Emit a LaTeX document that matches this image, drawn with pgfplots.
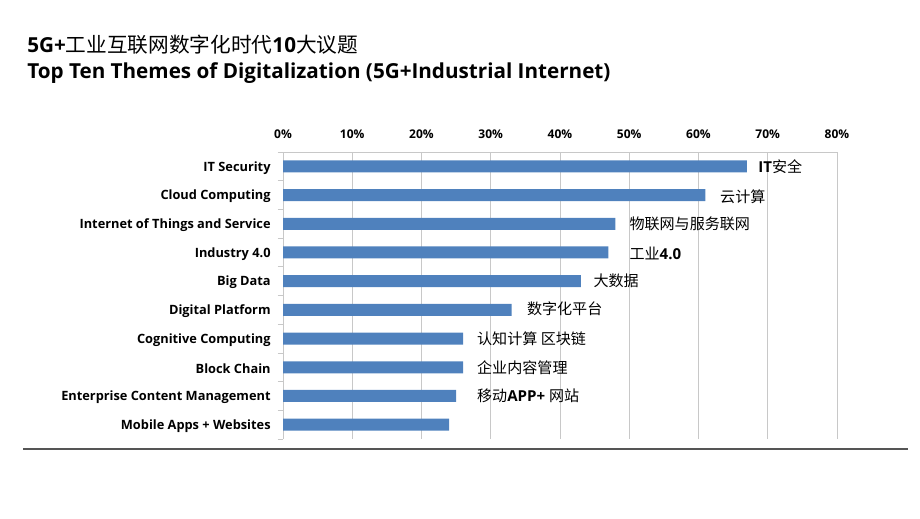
\documentclass[border=0pt]{standalone}
\usepackage{pgfplots}
\pgfplotsset{compat=1.18}
\usepackage{fontspec}
\setmainfont{Open Sans}
\newfontfamily\cjk{Noto Sans CJK SC}
\definecolor{barblue}{RGB}{79,129,189}
\definecolor{gridgray}{RGB}{200,200,200}
\definecolor{rulegray}{RGB}{85,85,85}
\begin{document}
\begin{tikzpicture}
\path[use as bounding box] (0,0) rectangle (690pt,-388.5pt);
\node[anchor=west,inner sep=0pt,font=\fontsize{15.5pt}{18pt}\selectfont] at (20.25pt,-33.75pt)
  {\bfseries 5G+{\cjk\mdseries 工业互联网数字化时代}10{\cjk\mdseries 大议题}};
\node[anchor=west,inner sep=0pt,font=\fontsize{15.5pt}{18pt}\selectfont\bfseries] at (20.25pt,-55pt)
  {Top Ten Themes of Digitalization (5G+Industrial Internet)};
\draw[line width=1.6pt,rulegray] (17.25pt,-336.75pt) -- (681pt,-336.75pt);
\begin{axis}[
  at={(212.25pt,-114pt)}, anchor=north west,
  scale only axis, width=415.5pt, height=215.25pt,
  xbar, bar width=9pt,
  xmin=0, xmax=80,
  ymin=-0.5, ymax=9.5,
  y dir=reverse,
  axis x line*=top, axis y line*=left,
  axis line style={gridgray},
  xtick={0,10,...,80},
  xticklabel={\pgfmathprintnumber{\tick}\%},
  xticklabel style={font=\fontsize{9pt}{10pt}\selectfont\bfseries, yshift=2pt},
  /pgf/number format/assume math mode=true,
  xmajorgrids, grid style={gridgray, line width=0.6pt},
  major x tick style={draw=none},
  ytick={0,...,9},
  yticklabels={IT Security, Cloud Computing, Internet of Things and Service, Industry 4.0, Big Data, Digital Platform, Cognitive Computing, Block Chain, Enterprise Content Management, Mobile Apps + Websites},
  yticklabel style={font=\fontsize{9.6pt}{10pt}\selectfont\bfseries, xshift=-1.5pt, yshift=-1pt},
  major y tick style={draw=none},
  minor ytick={-0.5,0.5,...,9.5},
  minor y tick style={gridgray, line width=0.6pt},
  minor tick length=4pt,
  tick align=outside,
  clip=false,
]
\addplot[fill=barblue, draw=none] coordinates {
  (67,0) (61,1) (48,2) (47,3) (43,4) (33,5) (26,6) (26,7) (25,8) (24,9)
};
\begin{scope}[every node/.style={anchor=west, inner sep=0pt, font=\fontsize{11.3pt}{12pt}\selectfont}]
\node at (axis cs:68.6,0) {\bfseries IT{\cjk\mdseries 安全}};
\node at (axis cs:63.1,1.05) {\cjk 云计算};
\node at (axis cs:50.0,2) {\cjk 物联网与服务联网};
\node at (axis cs:50.0,3.05) {{\cjk 工业}\bfseries 4.0};
\node at (axis cs:44.8,4) {\cjk 大数据};
\node at (axis cs:35.2,4.97) {\cjk 数字化平台};
\node at (axis cs:28.0,6) {\cjk 认知计算 区块链};
\node at (axis cs:28.0,7) {\cjk 企业内容管理};
\node at (axis cs:28.0,8) {{\cjk 移动}\bfseries APP+ {\cjk\mdseries 网站}};
\end{scope}
\end{axis}
\end{tikzpicture}
\end{document}
